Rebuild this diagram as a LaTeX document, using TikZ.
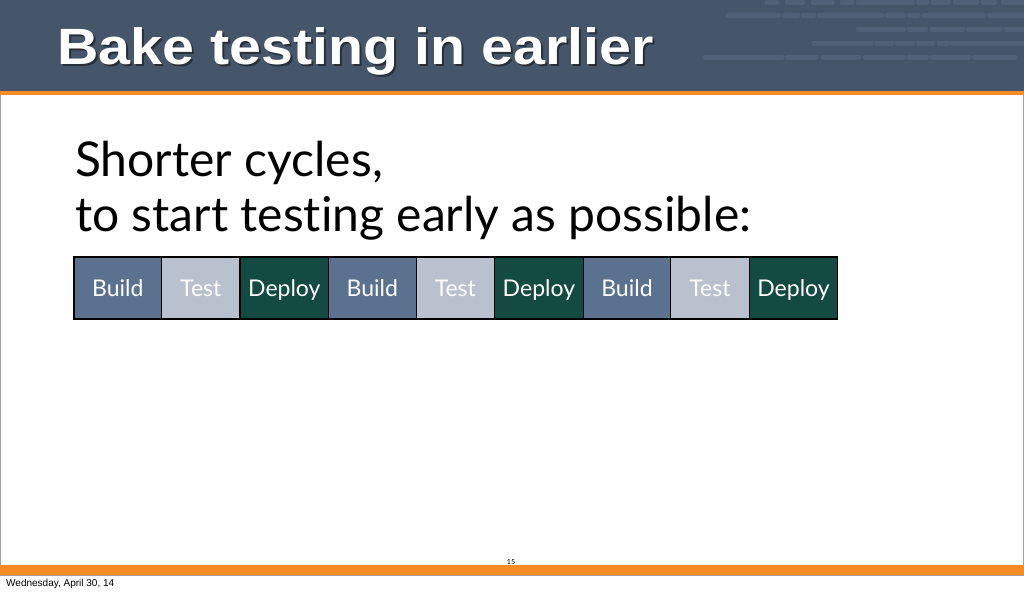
\documentclass[tikz,border=0pt]{standalone}
\usepackage{fontspec}
\setmainfont{Lato}[Ligatures=NoCommon]
\newfontfamily\titlefont{Liberation Sans}
\usepackage{xcolor}
\usetikzlibrary{positioning}
\definecolor{headerbg}{HTML}{46566A}
\definecolor{headerbar}{HTML}{506076}
\definecolor{slideorange}{HTML}{F58C25}
\definecolor{buildcol}{HTML}{5B7190}
\definecolor{testcol}{HTML}{B8C1CD}
\definecolor{deploycol}{HTML}{134A42}
\definecolor{framegray}{HTML}{A0A0A0}
\tikzset{
  stage/.style={draw=black, line width=1.2pt, minimum height=62pt, inner sep=0pt,
    outer sep=0pt, text height=20pt, text depth=2.6pt,
    text=white, font=\fontsize{23}{26}\selectfont, anchor=west},
  buildbox/.style={stage, fill=buildcol, minimum width=87.5pt},
  testbox/.style={stage, fill=testcol, minimum width=78.5pt},
  deploybox/.style={stage, fill=deploycol, minimum width=88.6pt},
  dashrow/.style={headerbar, line width=5pt, line cap=round},
  titletext/.style={anchor=base west, inner sep=0pt, xscale=1.125,
    font=\titlefont\bfseries\fontsize{51}{58}\selectfont}
}

\begin{document}
\begin{tikzpicture}[x=1pt,y=-1pt]
      \useasboundingbox (0,0) rectangle (1024,592);
      % header
      \fill[headerbg] (0,0) rectangle (1024,91);
      \fill[slideorange] (0,91) rectangle (1024,94.5);
      \foreach \a/\b in {767/777,787/803,813/832,842/852,858/913,918/927,933/949,955/977,983/995,1003/1023}
        \draw[dashrow] (\a,2) -- (\b,2);
      \foreach \a/\b in {728/779,784/798,803/814,819/882,887/904,909/918,924/984,989/1023}
        \draw[dashrow] (\a,15) -- (\b,15);
      \foreach \a/\b in {858/904,909/926,932/963,968/1000,1006/1023}
        \draw[dashrow] (\a,29) -- (\b,29);
      \foreach \a/\b in {814/872,877/892,897/913,918/933,939/948,952/1023}
        \draw[dashrow] (\a,43) -- (\b,43);
      \foreach \a/\b in {705/782,787/816,823/859,865/904,909/927,932/969,974/1015}
        \draw[dashrow] (\a,57) -- (\b,57);
      \node[titletext, text=black, opacity=0.45] at (59,66) {Bake testing in earlier};
      \node (title) [titletext, text=white] at (57,64) {Bake testing in earlier};
      % frame and footer
      \draw[framegray, line width=1pt] (0.5,94.5) -- (0.5,565) (1023.5,94.5) -- (1023.5,565);
      \fill[slideorange] (0,565) rectangle (1024,575);
      \draw[framegray, line width=1pt] (0,575.5) -- (1024,575.5);
      \node (pagenum) [inner sep=0pt, font=\fontsize{7}{8}\selectfont] at (511,562) {15};
      \node (date) [anchor=base west, inner sep=0pt, font=\titlefont\fontsize{10}{11}\selectfont] at (6,586) {Wednesday, April 30, 14};
      % body text
      \node (line1) [anchor=base west, inner sep=0pt, font=\fontsize{48}{56}\selectfont] at (75,176.7) {Shorter cycles,};
      \node (line2) [anchor=base west, inner sep=0pt, font=\fontsize{48}{56}\selectfont] at (75,231) {to start testing early as possible:};
      % cycles
      \node (build1) [buildbox] at (74,288) {Build};
      \node (test1) [testbox, right=0pt of build1] {Test};
      \node (deploy1) [deploybox, right=0pt of test1] {Deploy};
      \node (build2) [buildbox, right=0pt of deploy1] {Build};
      \node (test2) [testbox, right=0pt of build2] {Test};
      \node (deploy2) [deploybox, right=0pt of test2] {Deploy};
      \node (build3) [buildbox, right=0pt of deploy2] {Build};
      \node (test3) [testbox, right=0pt of build3] {Test};
      \node (deploy3) [deploybox, right=0pt of test3] {Deploy};
\end{tikzpicture}
\end{document}
